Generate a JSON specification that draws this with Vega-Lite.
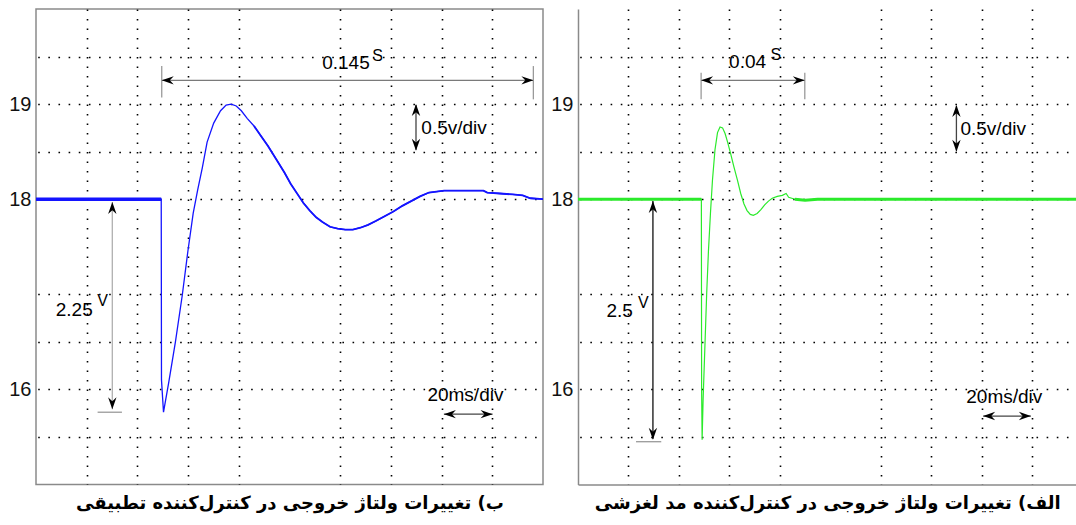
{
  "$schema": "https://vega.github.io/schema/vega-lite/v6.json",
  "padding": {"left": 0, "top": 8, "right": 0, "bottom": 0},
  "background": "white",
  "spacing": 35,
  "bounds": "flush",
  "datasets": {
    "blue": [
      {"t": 0, "v": 18}, {"t": 49.4, "v": 18}, {"t": 49.5, "v": 16.1}, {"t": 50.3, "v": 15.76}, {"t": 52.4, "v": 16.08},
      {"t": 55, "v": 16.5}, {"t": 57.7, "v": 16.99}, {"t": 59.9, "v": 17.45}, {"t": 62, "v": 17.85}, {"t": 63.8, "v": 18.1},
      {"t": 65.6, "v": 18.33}, {"t": 67.5, "v": 18.6}, {"t": 70.1, "v": 18.8}, {"t": 72.8, "v": 18.93}, {"t": 75, "v": 18.99},
      {"t": 77, "v": 19.0}, {"t": 79, "v": 18.98}, {"t": 81, "v": 18.93}, {"t": 83.3, "v": 18.85}, {"t": 86, "v": 18.77},
      {"t": 88.6, "v": 18.67}, {"t": 91.5, "v": 18.56}, {"t": 95, "v": 18.41}, {"t": 98, "v": 18.28}, {"t": 100.5, "v": 18.16},
      {"t": 103, "v": 18.06}, {"t": 105.5, "v": 17.96}, {"t": 108, "v": 17.88}, {"t": 110.5, "v": 17.81}, {"t": 113, "v": 17.76},
      {"t": 116, "v": 17.71}, {"t": 119, "v": 17.69}, {"t": 122, "v": 17.68}, {"t": 125, "v": 17.68}, {"t": 128, "v": 17.7},
      {"t": 131, "v": 17.73}, {"t": 134, "v": 17.77}, {"t": 137.5, "v": 17.82}, {"t": 141, "v": 17.87}, {"t": 144.5, "v": 17.93},
      {"t": 148, "v": 17.98}, {"t": 151.5, "v": 18.03}, {"t": 155, "v": 18.07}, {"t": 158, "v": 18.08}, {"t": 161, "v": 18.09},
      {"t": 170, "v": 18.09}, {"t": 176.5, "v": 18.09}, {"t": 178, "v": 18.07}, {"t": 183, "v": 18.06}, {"t": 188, "v": 18.05},
      {"t": 192, "v": 18.04}, {"t": 195, "v": 18.01}, {"t": 200, "v": 18.0}
    ],
    "green": [
      {"t": 0, "v": 18}, {"t": 48.9, "v": 18}, {"t": 49.0, "v": 16.0}, {"t": 49.2, "v": 15.47}, {"t": 49.6, "v": 15.9},
      {"t": 50.3, "v": 16.45}, {"t": 51, "v": 17.0}, {"t": 51.7, "v": 17.45}, {"t": 52.5, "v": 17.85}, {"t": 53.3, "v": 18.2},
      {"t": 54.3, "v": 18.52}, {"t": 55.3, "v": 18.7}, {"t": 56.3, "v": 18.76}, {"t": 57.3, "v": 18.75}, {"t": 58.3, "v": 18.69},
      {"t": 59.3, "v": 18.6}, {"t": 60.5, "v": 18.48}, {"t": 61.8, "v": 18.34}, {"t": 63.2, "v": 18.2}, {"t": 64.5, "v": 18.06},
      {"t": 65.8, "v": 17.95}, {"t": 67, "v": 17.88}, {"t": 68.3, "v": 17.84}, {"t": 69.5, "v": 17.83}, {"t": 71, "v": 17.85},
      {"t": 72.5, "v": 17.89}, {"t": 74, "v": 17.94}, {"t": 75.5, "v": 17.98}, {"t": 77, "v": 18.01}, {"t": 79, "v": 18.03},
      {"t": 81, "v": 18.04}, {"t": 82.5, "v": 18.06}, {"t": 83.5, "v": 18.02}, {"t": 86, "v": 18.0}, {"t": 90, "v": 17.99},
      {"t": 95, "v": 18.0}, {"t": 197.6, "v": 18.0}
    ],
    "rulesL": [
      {"t1": 49.6, "v1": 19.25, "t2": 196.2, "v2": 19.25, "kind": "span"},
      {"t1": 49.6, "v1": 19.07, "t2": 49.6, "v2": 19.4, "kind": "stop"},
      {"t1": 196.2, "v1": 19.05, "t2": 196.2, "v2": 19.4, "kind": "stop"},
      {"t1": 149.9, "v1": 18.52, "t2": 149.9, "v2": 18.99, "kind": "scale"},
      {"t1": 30.1, "v1": 17.97, "t2": 30.1, "v2": 15.79, "kind": "drop"},
      {"t1": 24.3, "v1": 15.76, "t2": 33.9, "v2": 15.76, "kind": "base"},
      {"t1": 160.9, "v1": 15.74, "t2": 180.1, "v2": 15.74, "kind": "scale"}
    ],
    "rulesR": [
      {"t1": 48.8, "v1": 19.25, "t2": 89.9, "v2": 19.25, "kind": "span"},
      {"t1": 48.8, "v1": 19.05, "t2": 48.8, "v2": 19.33, "kind": "stop"},
      {"t1": 89.9, "v1": 19.05, "t2": 89.9, "v2": 19.33, "kind": "stop"},
      {"t1": 150, "v1": 18.51, "t2": 150, "v2": 18.98, "kind": "scale"},
      {"t1": 29.7, "v1": 17.98, "t2": 29.7, "v2": 15.48, "kind": "dropSM"},
      {"t1": 23, "v1": 15.45, "t2": 33, "v2": 15.45, "kind": "base"},
      {"t1": 160.6, "v1": 15.72, "t2": 179.5, "v2": 15.72, "kind": "scale"}
    ],
    "headsL": [
      {"t": 49.6, "v": 19.25, "dir": "left"}, {"t": 196.2, "v": 19.25, "dir": "right"},
      {"t": 149.9, "v": 19.0, "dir": "up"}, {"t": 149.9, "v": 18.51, "dir": "down"},
      {"t": 30.1, "v": 17.97, "dir": "up"}, {"t": 30.1, "v": 15.79, "dir": "down"},
      {"t": 160.9, "v": 15.74, "dir": "left"}, {"t": 180.1, "v": 15.74, "dir": "right"}
    ],
    "headsR": [
      {"t": 48.8, "v": 19.25, "dir": "left"}, {"t": 89.9, "v": 19.25, "dir": "right"},
      {"t": 150, "v": 18.99, "dir": "up"}, {"t": 150, "v": 18.5, "dir": "down"},
      {"t": 29.7, "v": 17.98, "dir": "up"}, {"t": 29.7, "v": 15.47, "dir": "down"},
      {"t": 160.6, "v": 15.72, "dir": "left"}, {"t": 179.5, "v": 15.72, "dir": "right"}
    ],
    "textL": [
      {"label": "0.145", "t": 112.9, "v": 19.43, "role": "main"},
      {"label": "S", "t": 132.6, "v": 19.51, "role": "sup"},
      {"label": "0.5v/div", "t": 152, "v": 18.75, "role": "main"},
      {"label": "2.25", "t": 7.8, "v": 16.84, "role": "main"},
      {"label": "V", "t": 24.2, "v": 16.93, "role": "sup"},
      {"label": "20ms/div", "t": 154.4, "v": 15.94, "role": "main"}
    ],
    "textR": [
      {"label": "0.04", "t": 59.9, "v": 19.44, "role": "main"},
      {"label": "S", "t": 76.3, "v": 19.52, "role": "sup"},
      {"label": "0.5v/div", "t": 151.6, "v": 18.74, "role": "main"},
      {"label": "2.5", "t": 11.3, "v": 16.82, "role": "main"},
      {"label": "V", "t": 23.8, "v": 16.91, "role": "sup"},
      {"label": "20ms/div", "t": 153.9, "v": 15.92, "role": "main"}
    ]
  },
  "hconcat": [
    {
      "width": 507,
      "height": 475.5,
      "layer": [
        {"mark": {"type": "rule", "color": "#000", "strokeWidth": 6, "strokeDash": [2, 8.14], "strokeDashOffset": 1}, "encoding": {"y": {"datum": 17.5}}},
        {"mark": {"type": "rule", "color": "#000", "strokeWidth": 11, "strokeDash": [2, 48.7], "strokeDashOffset": 1}, "encoding": {"y": {"datum": 17.5}}},
        {"mark": {"type": "rule", "color": "#000", "strokeWidth": 6, "strokeDash": [1.8, 7.7]}, "encoding": {"x": {"datum": 100}}},
        {
          "data": {"name": "blue"},
          "mark": {"type": "line", "color": "#1414ff", "strokeWidth": 1.3},
          "encoding": {
            "x": {"field": "t", "type": "quantitative", "scale": {"domain": [0, 200], "nice": false, "zero": false},
              "axis": {"values": [20, 40, 60, 80, 120, 140, 160, 180], "grid": true, "gridColor": "#000", "gridWidth": 1.6, "gridDash": [1.6, 7.9],
                "labels": false, "ticks": false, "domain": false,
                "title": "ب) تغییرات ولتاژ خروجی در کنترل‌کننده تطبیقی",
                "titleFont": "DejaVu Sans", "titleFontSize": 18, "titleFontWeight": "bold", "titleColor": "#000", "titlePadding": 10}},
            "y": {"field": "v", "type": "quantitative", "scale": {"domain": [15, 20], "nice": false, "zero": false},
              "axis": {"values": [15.5, 16, 16.5, 17, 18, 18.5, 19, 19.5], "grid": true, "gridColor": "#000", "gridWidth": 1.6, "gridDash": [1.6, 8.54], "gridDashOffset": -1.7,
                "ticks": false, "domain": false, "title": null, "format": ".0f",
                "labelExpr": "(datum.value == 16 || datum.value == 18 || datum.value == 19) ? datum.label : ''",
                "labelFont": "Liberation Sans", "labelFontSize": 20, "labelColor": "#111", "labelPadding": 5, "minExtent": 35, "maxExtent": 35}}
          }
        },
        {"data": {"name": "blue"}, "transform": [{"filter": "datum.t <= 49.4"}], "mark": {"type": "line", "color": "#1414ff", "strokeWidth": 3.5}, "encoding": {"x": {"field": "t", "type": "quantitative"}, "y": {"field": "v", "type": "quantitative"}}},
        {"data": {"name": "blue"}, "transform": [{"filter": "datum.t >= 85"}], "mark": {"type": "line", "color": "#1414ff", "strokeWidth": 1.8}, "encoding": {"x": {"field": "t", "type": "quantitative"}, "y": {"field": "v", "type": "quantitative"}}},
        {
          "data": {"name": "rulesL"},
          "mark": {"type": "rule", "strokeWidth": 1.3},
          "encoding": {
            "x": {"field": "t1", "type": "quantitative"}, "x2": {"field": "t2"},
            "y": {"field": "v1", "type": "quantitative"}, "y2": {"field": "v2"},
            "color": {"field": "kind", "type": "nominal", "legend": null,
              "scale": {"domain": ["span", "stop", "scale", "drop", "dropSM", "base"], "range": ["#7a7a7a", "#9a9a9a", "#444444", "#b0b0b0", "#111111", "#9a9a9a"]}}
          }
        },
        {
          "data": {"name": "headsL"},
          "mark": {"type": "point", "filled": true, "size": 144, "opacity": 1, "strokeWidth": 0, "color": "#000"},
          "encoding": {
            "x": {"field": "t", "type": "quantitative"}, "y": {"field": "v", "type": "quantitative"},
            "shape": {"field": "dir", "type": "nominal", "legend": null,
              "scale": {"domain": ["left", "right", "up", "down"], "range": ["M0,0L2,-0.7L1.35,0L2,0.7Z", "M0,0L-2,-0.7L-1.35,0L-2,0.7Z", "M0,0L-0.7,2L0,1.35L0.7,2Z", "M0,0L-0.7,-2L0,-1.35L0.7,-2Z"]}}
          }
        },
        {
          "data": {"name": "textL"}, "transform": [{"filter": "datum.role == 'main'"}],
          "mark": {"type": "text", "align": "left", "baseline": "middle", "font": "Liberation Sans", "fontSize": 19, "color": "#000"},
          "encoding": {"x": {"field": "t", "type": "quantitative"}, "y": {"field": "v", "type": "quantitative"}, "text": {"field": "label"}}
        },
        {
          "data": {"name": "textL"}, "transform": [{"filter": "datum.role == 'sup'"}],
          "mark": {"type": "text", "align": "left", "baseline": "middle", "font": "Liberation Sans", "fontSize": 16, "color": "#000"},
          "encoding": {"x": {"field": "t", "type": "quantitative"}, "y": {"field": "v", "type": "quantitative"}, "text": {"field": "label"}}
        }
      ]
    },
    {
      "width": 498.5,
      "height": 475.5,
      "view": {"stroke": null},
      "layer": [
        {"mark": {"type": "rule", "color": "#000", "strokeWidth": 6, "strokeDash": [2, 8.08], "strokeDashOffset": 1}, "encoding": {"y": {"datum": 17.5}}},
        {"mark": {"type": "rule", "color": "#000", "strokeWidth": 11, "strokeDash": [2, 48.4], "strokeDashOffset": 1}, "encoding": {"y": {"datum": 17.5}}},
        {"mark": {"type": "rule", "color": "#000", "strokeWidth": 6, "strokeDash": [1.8, 7.7]}, "encoding": {"x": {"datum": 100}}},
        {"mark": {"type": "rule", "color": "#8a8a8a", "strokeWidth": 1.5}, "encoding": {"y": {"datum": 20}}},
        {
          "data": {"name": "green"},
          "mark": {"type": "line", "color": "#2bea2b", "strokeWidth": 1.2},
          "encoding": {
            "x": {"field": "t", "type": "quantitative", "scale": {"domain": [0, 197.6], "nice": false, "zero": false},
              "axis": {"values": [20, 40, 60, 80, 120, 140, 160, 180], "grid": true, "gridColor": "#000", "gridWidth": 1.6, "gridDash": [1.6, 7.9],
                "labels": false, "ticks": false, "domain": true, "domainColor": "#8a8a8a", "domainWidth": 1.5,
                "title": "الف) تغییرات ولتاژ خروجی در کنترل‌کننده مد لغزشی",
                "titleFont": "DejaVu Sans", "titleFontSize": 18, "titleFontWeight": "bold", "titleColor": "#000", "titlePadding": 10}},
            "y": {"field": "v", "type": "quantitative", "scale": {"domain": [15, 20], "nice": false, "zero": false},
              "axis": {"values": [15.5, 16, 16.5, 17, 18, 18.5, 19, 19.5], "grid": true, "gridColor": "#000", "gridWidth": 1.6, "gridDash": [1.6, 8.54], "gridDashOffset": -1.7,
                "ticks": false, "domain": true, "domainColor": "#8a8a8a", "domainWidth": 1.5, "title": null, "format": ".0f",
                "labelExpr": "(datum.value == 16 || datum.value == 18 || datum.value == 19) ? datum.label : ''",
                "labelFont": "Liberation Sans", "labelFontSize": 20, "labelColor": "#111", "labelPadding": 5, "minExtent": 35, "maxExtent": 35}}
          }
        },
        {"data": {"name": "green"}, "transform": [{"filter": "datum.t <= 48.9"}], "mark": {"type": "line", "color": "#2bea2b", "strokeWidth": 3}, "encoding": {"x": {"field": "t", "type": "quantitative"}, "y": {"field": "v", "type": "quantitative"}}},
        {"data": {"name": "green"}, "transform": [{"filter": "datum.t >= 86"}], "mark": {"type": "line", "color": "#2bea2b", "strokeWidth": 3}, "encoding": {"x": {"field": "t", "type": "quantitative"}, "y": {"field": "v", "type": "quantitative"}}},
        {
          "data": {"name": "rulesR"},
          "mark": {"type": "rule", "strokeWidth": 1.3},
          "encoding": {
            "x": {"field": "t1", "type": "quantitative"}, "x2": {"field": "t2"},
            "y": {"field": "v1", "type": "quantitative"}, "y2": {"field": "v2"},
            "color": {"field": "kind", "type": "nominal", "legend": null,
              "scale": {"domain": ["span", "stop", "scale", "drop", "dropSM", "base"], "range": ["#7a7a7a", "#9a9a9a", "#444444", "#b0b0b0", "#111111", "#9a9a9a"]}}
          }
        },
        {
          "data": {"name": "headsR"},
          "mark": {"type": "point", "filled": true, "size": 144, "opacity": 1, "strokeWidth": 0, "color": "#000"},
          "encoding": {
            "x": {"field": "t", "type": "quantitative"}, "y": {"field": "v", "type": "quantitative"},
            "shape": {"field": "dir", "type": "nominal", "legend": null,
              "scale": {"domain": ["left", "right", "up", "down"], "range": ["M0,0L2,-0.7L1.35,0L2,0.7Z", "M0,0L-2,-0.7L-1.35,0L-2,0.7Z", "M0,0L-0.7,2L0,1.35L0.7,2Z", "M0,0L-0.7,-2L0,-1.35L0.7,-2Z"]}}
          }
        },
        {
          "data": {"name": "textR"}, "transform": [{"filter": "datum.role == 'main'"}],
          "mark": {"type": "text", "align": "left", "baseline": "middle", "font": "Liberation Sans", "fontSize": 19, "color": "#000"},
          "encoding": {"x": {"field": "t", "type": "quantitative"}, "y": {"field": "v", "type": "quantitative"}, "text": {"field": "label"}}
        },
        {
          "data": {"name": "textR"}, "transform": [{"filter": "datum.role == 'sup'"}],
          "mark": {"type": "text", "align": "left", "baseline": "middle", "font": "Liberation Sans", "fontSize": 16, "color": "#000"},
          "encoding": {"x": {"field": "t", "type": "quantitative"}, "y": {"field": "v", "type": "quantitative"}, "text": {"field": "label"}}
        }
      ]
    }
  ],
  "config": {
    "view": {"stroke": "#8a8a8a", "strokeWidth": 1.5}
  }
}
